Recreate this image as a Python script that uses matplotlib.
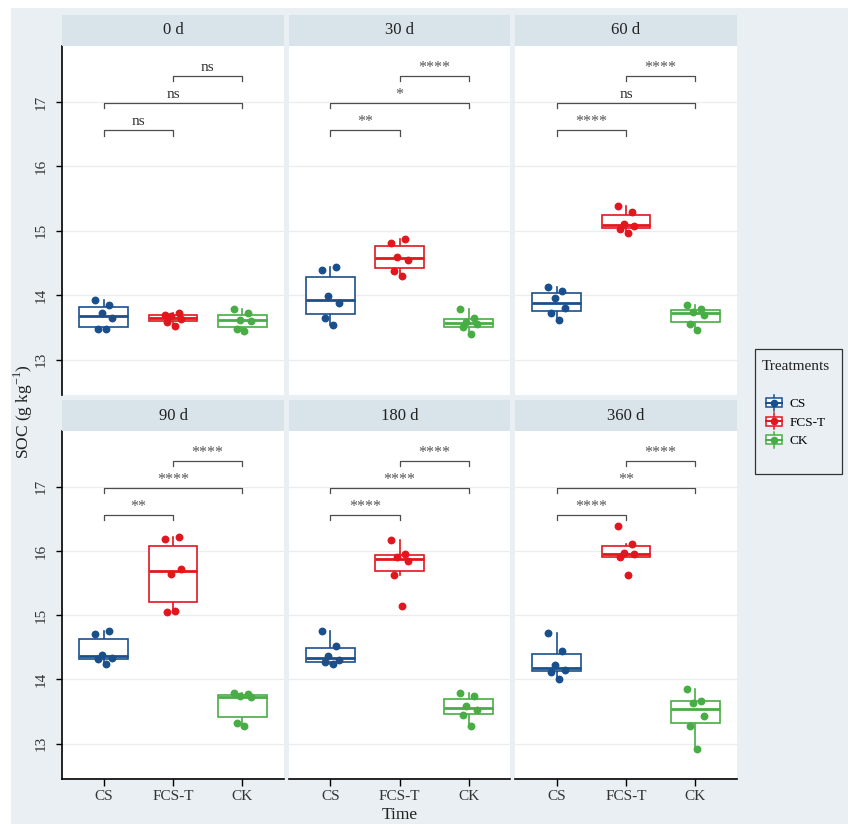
import matplotlib
matplotlib.use('Agg')
import matplotlib.pyplot as plt
from matplotlib.patches import Rectangle
from matplotlib.legend_handler import HandlerBase
from matplotlib.lines import Line2D

plt.rcParams['font.family'] = ['Liberation Serif', 'DejaVu Serif']
plt.rcParams['mathtext.fontset'] = 'custom'
plt.rcParams['mathtext.rm'] = 'Liberation Serif'

# ---------------- data ----------------
times = ['0 d', '30 d', '60 d', '90 d', '180 d', '360 d']
treatments = ['CS', 'FCS-T', 'CK']
colors = ['#1a4f8e', '#e2161f', '#49ad46']

cs_values = [
    [13.92, 13.84, 13.72, 13.64, 13.47, 13.47],
    [14.39, 14.44, 13.98, 13.88, 13.65, 13.54],
    [14.12, 14.06, 13.95, 13.80, 13.73, 13.62],
    [14.71, 14.75, 14.38, 14.34, 14.32, 14.24],
    [14.75, 14.52, 14.37, 14.30, 14.27, 14.24],
    [14.73, 14.45, 14.23, 14.14, 14.12, 14.00],
]
fcst_values = [
    [13.70, 13.72, 13.67, 13.63, 13.58, 13.52],
    [14.81, 14.88, 14.60, 14.55, 14.37, 14.30],
    [15.39, 15.29, 15.10, 15.07, 15.03, 14.97],
    [16.19, 16.22, 15.65, 15.72, 15.05, 15.06],
    [16.18, 15.96, 15.90, 15.84, 15.63, 15.14],
    [16.39, 16.11, 15.97, 15.95, 15.90, 15.63],
]
ck_values = [
    [13.78, 13.72, 13.62, 13.60, 13.48, 13.45],
    [13.78, 13.65, 13.59, 13.55, 13.50, 13.39],
    [13.84, 13.79, 13.74, 13.70, 13.55, 13.46],
    [13.79, 13.77, 13.74, 13.72, 13.32, 13.27],
    [13.79, 13.74, 13.59, 13.53, 13.45, 13.27],
    [13.85, 13.67, 13.64, 13.43, 13.28, 12.92],
]

sig_cs_fcst = ['ns', '**', '****', '**', '****', '****']
sig_cs_ck = ['ns', '*', 'ns', '****', '****', '**']
sig_fcst_ck = ['ns', '****', '****', '****', '****', '****']
bracket_y = [16.56, 16.99, 17.40]

yticks = [13, 14, 15, 16, 17]

# ---------------- style ----------------
jitter = [-0.12, 0.08, -0.03, 0.12, -0.08, 0.03]
bg = '#e9eff2'
strip_col = '#d9e3ea'
W, H = 848, 824

fig = plt.figure(figsize=(W / 100, H / 100), dpi=100)
fig.patch.set_facecolor('white')
fig.patches.append(Rectangle((11 / W, 0), 1, 1 - 8 / H, transform=fig.transFigure,
                             facecolor=bg, edgecolor='none', zorder=-10))

col_x = [(62, 284), (289, 510), (515, 737)]
row_y = [(46, 395), (431, 779)]
strip_h = 31

for i, t in enumerate(times):
    r, c = divmod(i, 3)
    x0, x1 = col_x[c]
    y0, y1 = row_y[r]
    ax = fig.add_axes([x0 / W, 1 - y1 / H, (x1 - x0) / W, (y1 - y0) / H])
    ax.set_facecolor('white')
    sax = fig.add_axes([x0 / W, 1 - y0 / H, (x1 - x0) / W, strip_h / H])
    sax.set_facecolor(strip_col)
    sax.set_xticks([]); sax.set_yticks([])
    for s in sax.spines.values():
        s.set_visible(False)
    sax.text(0.5, 0.5, t, ha='center', va='center', fontsize=12, color='#222222',
             transform=sax.transAxes)

    data = [cs_values[i], fcst_values[i], ck_values[i]]
    bp = ax.boxplot(data, positions=[1, 2, 3], widths=0.7, showfliers=False,
                    showcaps=False, patch_artist=True, whis=1.5)
    for k in range(3):
        bp['boxes'][k].set(facecolor='white', edgecolor=colors[k], linewidth=1.2, zorder=2)
        bp['medians'][k].set(color=colors[k], linewidth=2.0, zorder=3)
        for w in bp['whiskers'][2 * k:2 * k + 2]:
            w.set(color=colors[k], linewidth=1.2, zorder=1)
        xs = [k + 1 + jitter[j % len(jitter)] for j in range(len(data[k]))]
        ax.scatter(xs, data[k], s=32, color=colors[k], zorder=4, linewidths=0)

    labels = [sig_cs_fcst[i], sig_cs_ck[i], sig_fcst_ck[i]]
    pairs = [(1, 2), (1, 3), (2, 3)]
    for (a, b), yb, lab in zip(pairs, bracket_y, labels):
        ax.plot([a, a, b, b], [yb - 0.08, yb, yb, yb - 0.08], color='#4d4d4d', lw=0.9, zorder=5)
        if lab == 'ns':
            ax.text((a + b) / 2, yb + 0.03, lab, ha='center', va='bottom', fontsize=11, color='#333333')
        else:
            ax.text((a + b) / 2, yb + 0.0, lab, ha='center', va='bottom', fontsize=11.5, color='#555555')

    ax.set_xlim(0.4, 3.6)
    ax.set_ylim(12.45, 17.87)
    ax.set_yticks(yticks)
    ax.set_xticks([1, 2, 3])
    ax.grid(axis='y', color='#ececec', lw=0.9)
    ax.set_axisbelow(True)
    for s in ax.spines.values():
        s.set_visible(False)
    if c == 0:
        ax.spines['left'].set_visible(True)
        ax.spines['left'].set_color('black')
        ax.spines['left'].set_linewidth(1.2)
        ax.tick_params(axis='y', length=4, width=1, pad=6, labelsize=11, labelcolor='#333333')
        ax.set_yticklabels([str(v) for v in yticks], rotation=90, va='center')
    else:
        ax.tick_params(axis='y', length=0, labelleft=False)
    if r == 1:
        ax.spines['bottom'].set_visible(True)
        ax.spines['bottom'].set_color('black')
        ax.spines['bottom'].set_linewidth(1.2)
        ax.tick_params(axis='x', length=5, width=1, pad=3, labelsize=11, labelcolor='#333333')
        ax.set_xticklabels(treatments)
    else:
        ax.tick_params(axis='x', length=0, labelbottom=False)

fig.text(0.027, 1 - 412 / H, r'SOC (g kg$^{\mathregular{-1}}$)', rotation=90,
         ha='center', va='center', fontsize=12.5, color='#222222')
fig.text(399.5 / W, 1 - 815 / H, 'Time', ha='center', va='center', fontsize=12.5, color='#222222')


class BoxHandler(HandlerBase):
    def create_artists(self, legend, orig_handle, xdescent, ydescent, width, height,
                       fontsize, trans):
        col = orig_handle.get_color()
        cx = width / 2 - xdescent
        rect = Rectangle((-xdescent, -ydescent + 0.1 * height), width,
                         0.8 * height, facecolor='white', edgecolor=col, lw=1.1, transform=trans)
        med = Line2D([-xdescent, -xdescent + width],
                     [-ydescent + 0.5 * height] * 2, color=col, lw=1.4, transform=trans)
        wh = Line2D([cx, cx], [-ydescent - 0.2 * height, -ydescent + 1.2 * height],
                    color=col, lw=1.1, transform=trans)
        dot = Line2D([cx], [-ydescent + 0.5 * height], marker='o', markersize=4.5,
                     color=col, lw=0, transform=trans)
        return [wh, rect, med, dot]


# legend frame
fig.patches.append(Rectangle((755 / W, 1 - 474 / H), 87 / W, 125 / H, transform=fig.transFigure,
                             facecolor=bg, edgecolor='#333333', lw=0.9, zorder=5))
fig.text(762 / W, 1 - 366 / H, 'Treatments', ha='left', va='center', fontsize=11,
         color='#222222', zorder=6)
handles = [Line2D([], [], color=c) for c in colors]
leg = fig.legend(handles, treatments, loc='upper left',
                 bbox_to_anchor=(766 / W, 1 - 397 / H), handler_map={Line2D: BoxHandler()},
                 fontsize=9.5, frameon=False, borderaxespad=0,
                 handlelength=1.25, handleheight=0.95, handletextpad=0.55, labelspacing=0.4,
                 borderpad=0.0)
leg.set_zorder(7)

fig.savefig('out.png', dpi=100, facecolor=fig.get_facecolor())
